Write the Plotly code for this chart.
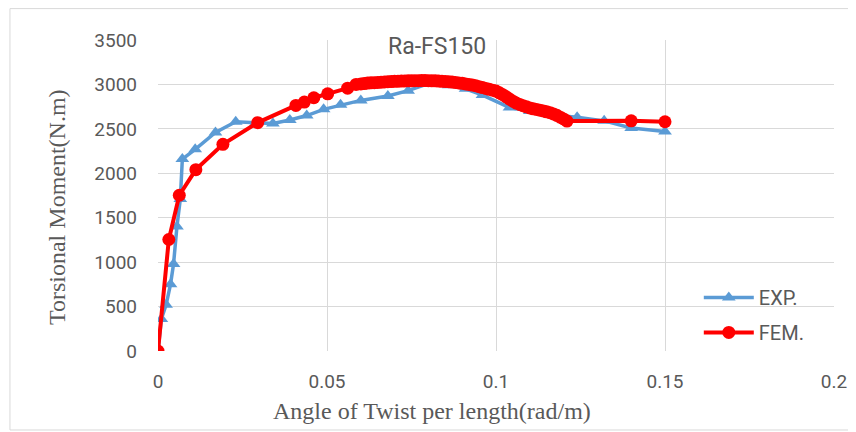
import plotly.graph_objects as go

exp_x = [0, 0.001, 0.0024, 0.0037, 0.0046, 0.0056, 0.0066, 0.0072, 0.011, 0.017, 0.023,
         0.029, 0.034, 0.039, 0.044, 0.049, 0.054, 0.060, 0.068, 0.074, 0.080, 0.086,
         0.091, 0.096, 0.104, 0.110, 0.116, 0.124, 0.132, 0.140, 0.150]
exp_y = [0, 360, 520, 750, 980, 1400, 1710, 2160, 2270, 2460, 2580,
         2570, 2560, 2600, 2650, 2720, 2770, 2820, 2870, 2930, 3010, 2990,
         2950, 2880, 2740, 2700, 2660, 2630, 2590, 2510, 2470]

fem_x = [0, 0.0032, 0.0063, 0.0112, 0.0192, 0.0295, 0.0408, 0.0433, 0.0461, 0.0502,
         0.0561, 0.0586, 0.060, 0.061, 0.062, 0.063, 0.064, 0.065, 0.066, 0.067, 0.068,
         0.069, 0.070, 0.071, 0.072, 0.073, 0.074, 0.075, 0.076, 0.077, 0.078, 0.079,
         0.080, 0.081, 0.082, 0.083, 0.084, 0.085, 0.086, 0.087, 0.088, 0.089, 0.090,
         0.091, 0.092, 0.093, 0.094, 0.095, 0.096, 0.097, 0.098, 0.099, 0.100, 0.101,
         0.102, 0.103, 0.104, 0.105, 0.106, 0.107, 0.108, 0.109, 0.110, 0.111, 0.112,
         0.113, 0.114, 0.115, 0.116, 0.117, 0.118, 0.119, 0.120, 0.121, 0.140, 0.150]
fem_y = [0, 1255, 1753, 2041, 2326, 2570, 2764, 2801, 2850, 2894,
         2958, 3000, 3005, 3010, 3015, 3018, 3020, 3023, 3025, 3028, 3030,
         3032, 3035, 3036, 3038, 3039, 3040, 3041, 3042, 3042, 3043, 3043,
         3042, 3041, 3040, 3038, 3035, 3033, 3030, 3026, 3022, 3017, 3012,
         3006, 3000, 2993, 2985, 2975, 2965, 2955, 2945, 2935, 2925, 2905,
         2885, 2860, 2835, 2812, 2790, 2775, 2760, 2748, 2735, 2726, 2718,
         2710, 2702, 2692, 2682, 2668, 2652, 2632, 2612, 2588, 2590, 2580]

x_ticks = [0, 0.05, 0.1, 0.15, 0.2]
x_tick_text = ["0", "0.05", "0.1", "0.15", "0.2"]
y_ticks = [0, 500, 1000, 1500, 2000, 2500, 3000, 3500]

sans = "Liberation Sans Narrow, Roboto, Arial Narrow, sans-serif"
tick_font = dict(family=sans, size=19, color="#595959")
serif = dict(family="Liberation Serif, Times New Roman, serif", size=24, color="#595959")

fig = go.Figure()
fig.add_trace(go.Scatter(
    x=exp_x, y=exp_y, name="EXP.", mode="lines+markers", legendgroup="a",
    line=dict(color="#5B9BD5", width=3.5),
    marker=dict(symbol="triangle-up", size=12, color="#5B9BD5"),
))
fig.add_trace(go.Scatter(
    x=fem_x, y=fem_y, name="FEM.", mode="lines+markers", legendgroup="b",
    line=dict(color="#FF0000", width=4),
    marker=dict(symbol="circle", size=13, color="#FF0000"),
))

fig.update_layout(
    width=848, height=424,
    margin=dict(l=150, r=22, t=32, b=81),
    paper_bgcolor="white", plot_bgcolor="white",
    showlegend=True,
    legend=dict(x=0.80, y=0.235, xanchor="left", yanchor="top",
                bgcolor="rgba(0,0,0,0)", itemwidth=50, tracegroupgap=6,
                font=dict(family=sans, size=20, color="#595959")),
    xaxis=dict(range=[0, 0.2], tickvals=x_ticks, ticktext=x_tick_text, automargin=False,
               showgrid=True, gridcolor="#D9D9D9", gridwidth=1,
               zeroline=False, showline=False, ticks="",
               tickfont=tick_font, ticklabelstandoff=17),
    yaxis=dict(range=[0, 3500], tickvals=y_ticks, automargin=False,
               showgrid=True, gridcolor="#D9D9D9", gridwidth=1,
               zeroline=False, showline=False, ticks="",
               tickfont=tick_font, ticklabelstandoff=20),
    annotations=[
        dict(text="Ra-FS150", xref="paper", yref="paper", x=0.413, y=0.978,
             xanchor="center", yanchor="middle", showarrow=False,
             font=dict(family=sans, size=23, color="#595959")),
        dict(text="Angle of Twist per length(rad/m)", xref="paper", yref="paper",
             x=0.406, y=-0.193, xanchor="center", yanchor="middle", showarrow=False,
             font=serif),
        dict(text="Torsional Moment(N.m)", xref="paper", yref="paper", textangle=-90,
             x=-0.1494, y=0.463, xanchor="center", yanchor="middle", showarrow=False,
             font=serif),
    ],
    shapes=[dict(type="rect", xref="paper", yref="paper", x0=-0.219, x1=1.028, y0=-0.254, y1=1.101,
                 line=dict(color="#D9D9D9", width=1), layer="below")],
)

fig.write_html("out.html")
